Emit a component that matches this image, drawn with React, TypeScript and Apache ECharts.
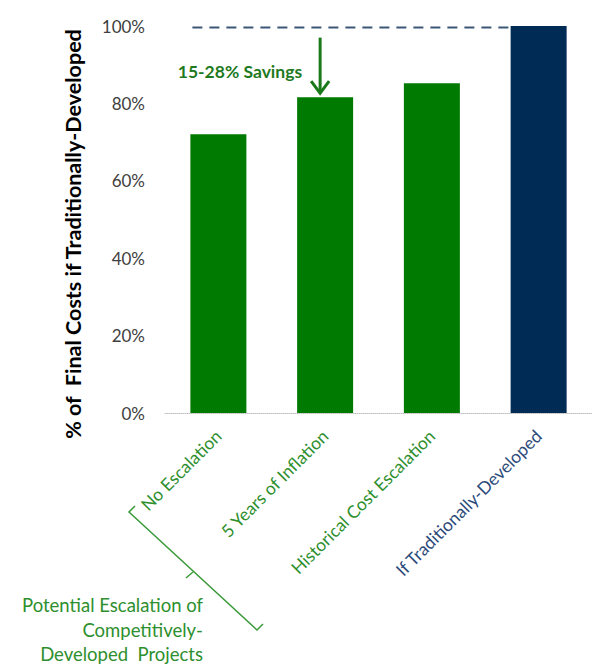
import React, { useEffect, useRef } from "react";
import * as echarts from "echarts";

const categories = [
  "No Escalation",
  "5 Years of Inflation",
  "Historical Cost Escalation",
  "If Traditionally-Developed",
];
const values = [72, 81.6, 85.2, 100];
const yMin = 0;
const yMax = 100;
const yInterval = 20;
const annotation = "15-28% Savings";
const groupLabel = ["Potential Escalation of", "Competitively-", "Developed  Projects"];
const yTitle = "% of  Final Costs if Traditionally-Developed";

const GREEN = "#007a00";
const NAVY = "#002b55";
const TEXT_GREEN = "#2e8f2e";
const FONT = "Lato, 'Open Sans', sans-serif";

export default function App() {
  const ref = useRef<HTMLDivElement>(null);
  useEffect(() => {
    if (!ref.current) return;
    const chart = echarts.init(ref.current, null, { renderer: "svg" });
    const option: any = {
      animation: false,
      textStyle: { fontFamily: FONT },
      grid: { left: 165, right: -8, top: 26, bottom: 251, containLabel: false },
      xAxis: {
        type: "category",
        data: categories,
        axisLine: { lineStyle: { color: "#c0c0c0", type: "dotted", width: 1 } },
        axisTick: { show: false },
        axisLabel: {
          interval: 0,
          rotate: 45,
          margin: 20,
          fontSize: 17.5,
          fontFamily: FONT,
          color: (_v: any, i: number) => (i === 3 ? "#2b4a7a" : TEXT_GREEN),
        },
      },
      yAxis: {
        type: "value",
        min: yMin,
        max: yMax,
        interval: yInterval,
        axisLine: { show: false },
        axisTick: { show: false },
        splitLine: { show: false },
        axisLabel: { formatter: "{value}%", fontSize: 17, color: "#404040", margin: 20, fontFamily: FONT },
      },
      series: [
        {
          type: "bar",
          barWidth: 56,
          data: values.map((v, i) => ({ value: v, itemStyle: { color: i === 3 ? NAVY : GREEN } })),
        },
      ],
    };
    chart.setOption(option);

    const p = (i: number, v: number) => chart.convertToPixel({ gridIndex: 0 }, [i, v]) as number[];
    const [c0, y100] = p(0, yMax);
    const [c3] = p(3, yMax);
    const [c1, top1] = p(1, values[1]);
    const half = 28;
    const ax = c1 - 5;
    const tip = top1 - 4;
    const arrowTop = p(1, 97)[1];

    chart.setOption({
      graphic: [
        {
          type: "text",
          x: 73,
          y: 234,
          rotation: Math.PI / 2,
          style: {
            text: yTitle,
            fill: "#000",
            font: `bold 21.5px ${FONT}`,
            align: "center",
            verticalAlign: "middle",
          },
        },
        {
          type: "line",
          shape: { x1: c0 - half + 2, y1: y100 + 1.5, x2: c3 - half, y2: y100 + 1.5 },
          style: { stroke: "#3b5777", lineWidth: 2, lineDash: [10, 7] },
        },
        {
          type: "line",
          shape: { x1: ax, y1: arrowTop, x2: ax, y2: tip - 2 },
          style: { stroke: "#1a7a1a", lineWidth: 3 },
        },
        {
          type: "polyline",
          shape: { points: [[ax - 9, tip - 12], [ax, tip], [ax + 9, tip - 12]] },
          style: { stroke: "#1a7a1a", lineWidth: 3, fill: "none" },
        },
        {
          type: "text",
          x: ax - 18,
          y: (arrowTop + tip) / 2 + 6,
          style: {
            text: annotation,
            fill: "#1e7a1e",
            font: `bold 17.5px ${FONT}`,
            align: "right",
            verticalAlign: "middle",
          },
        },
        {
          type: "polyline",
          shape: { points: [[135, 506], [129, 512], [257, 630], [263, 624]] },
          style: { stroke: "#3a9a3a", lineWidth: 1.5, fill: "none" },
        },
        {
          type: "line",
          shape: { x1: 193, y1: 572, x2: 186, y2: 578 },
          style: { stroke: "#3a9a3a", lineWidth: 1.5 },
        },
        {
          type: "text",
          x: 203,
          y: 593,
          style: {
            text: groupLabel.join("\n"),
            fill: TEXT_GREEN,
            font: `18.5px ${FONT}`,
            align: "right",
            verticalAlign: "top",
            lineHeight: 24.5,
          },
        },
      ],
    });
    return () => chart.dispose();
  }, []);
  return (
    <div
      ref={ref}
      style={{ position: "fixed", left: 0, top: 0, width: 592, height: 664, background: "#fff" }}
    />
  );
}
